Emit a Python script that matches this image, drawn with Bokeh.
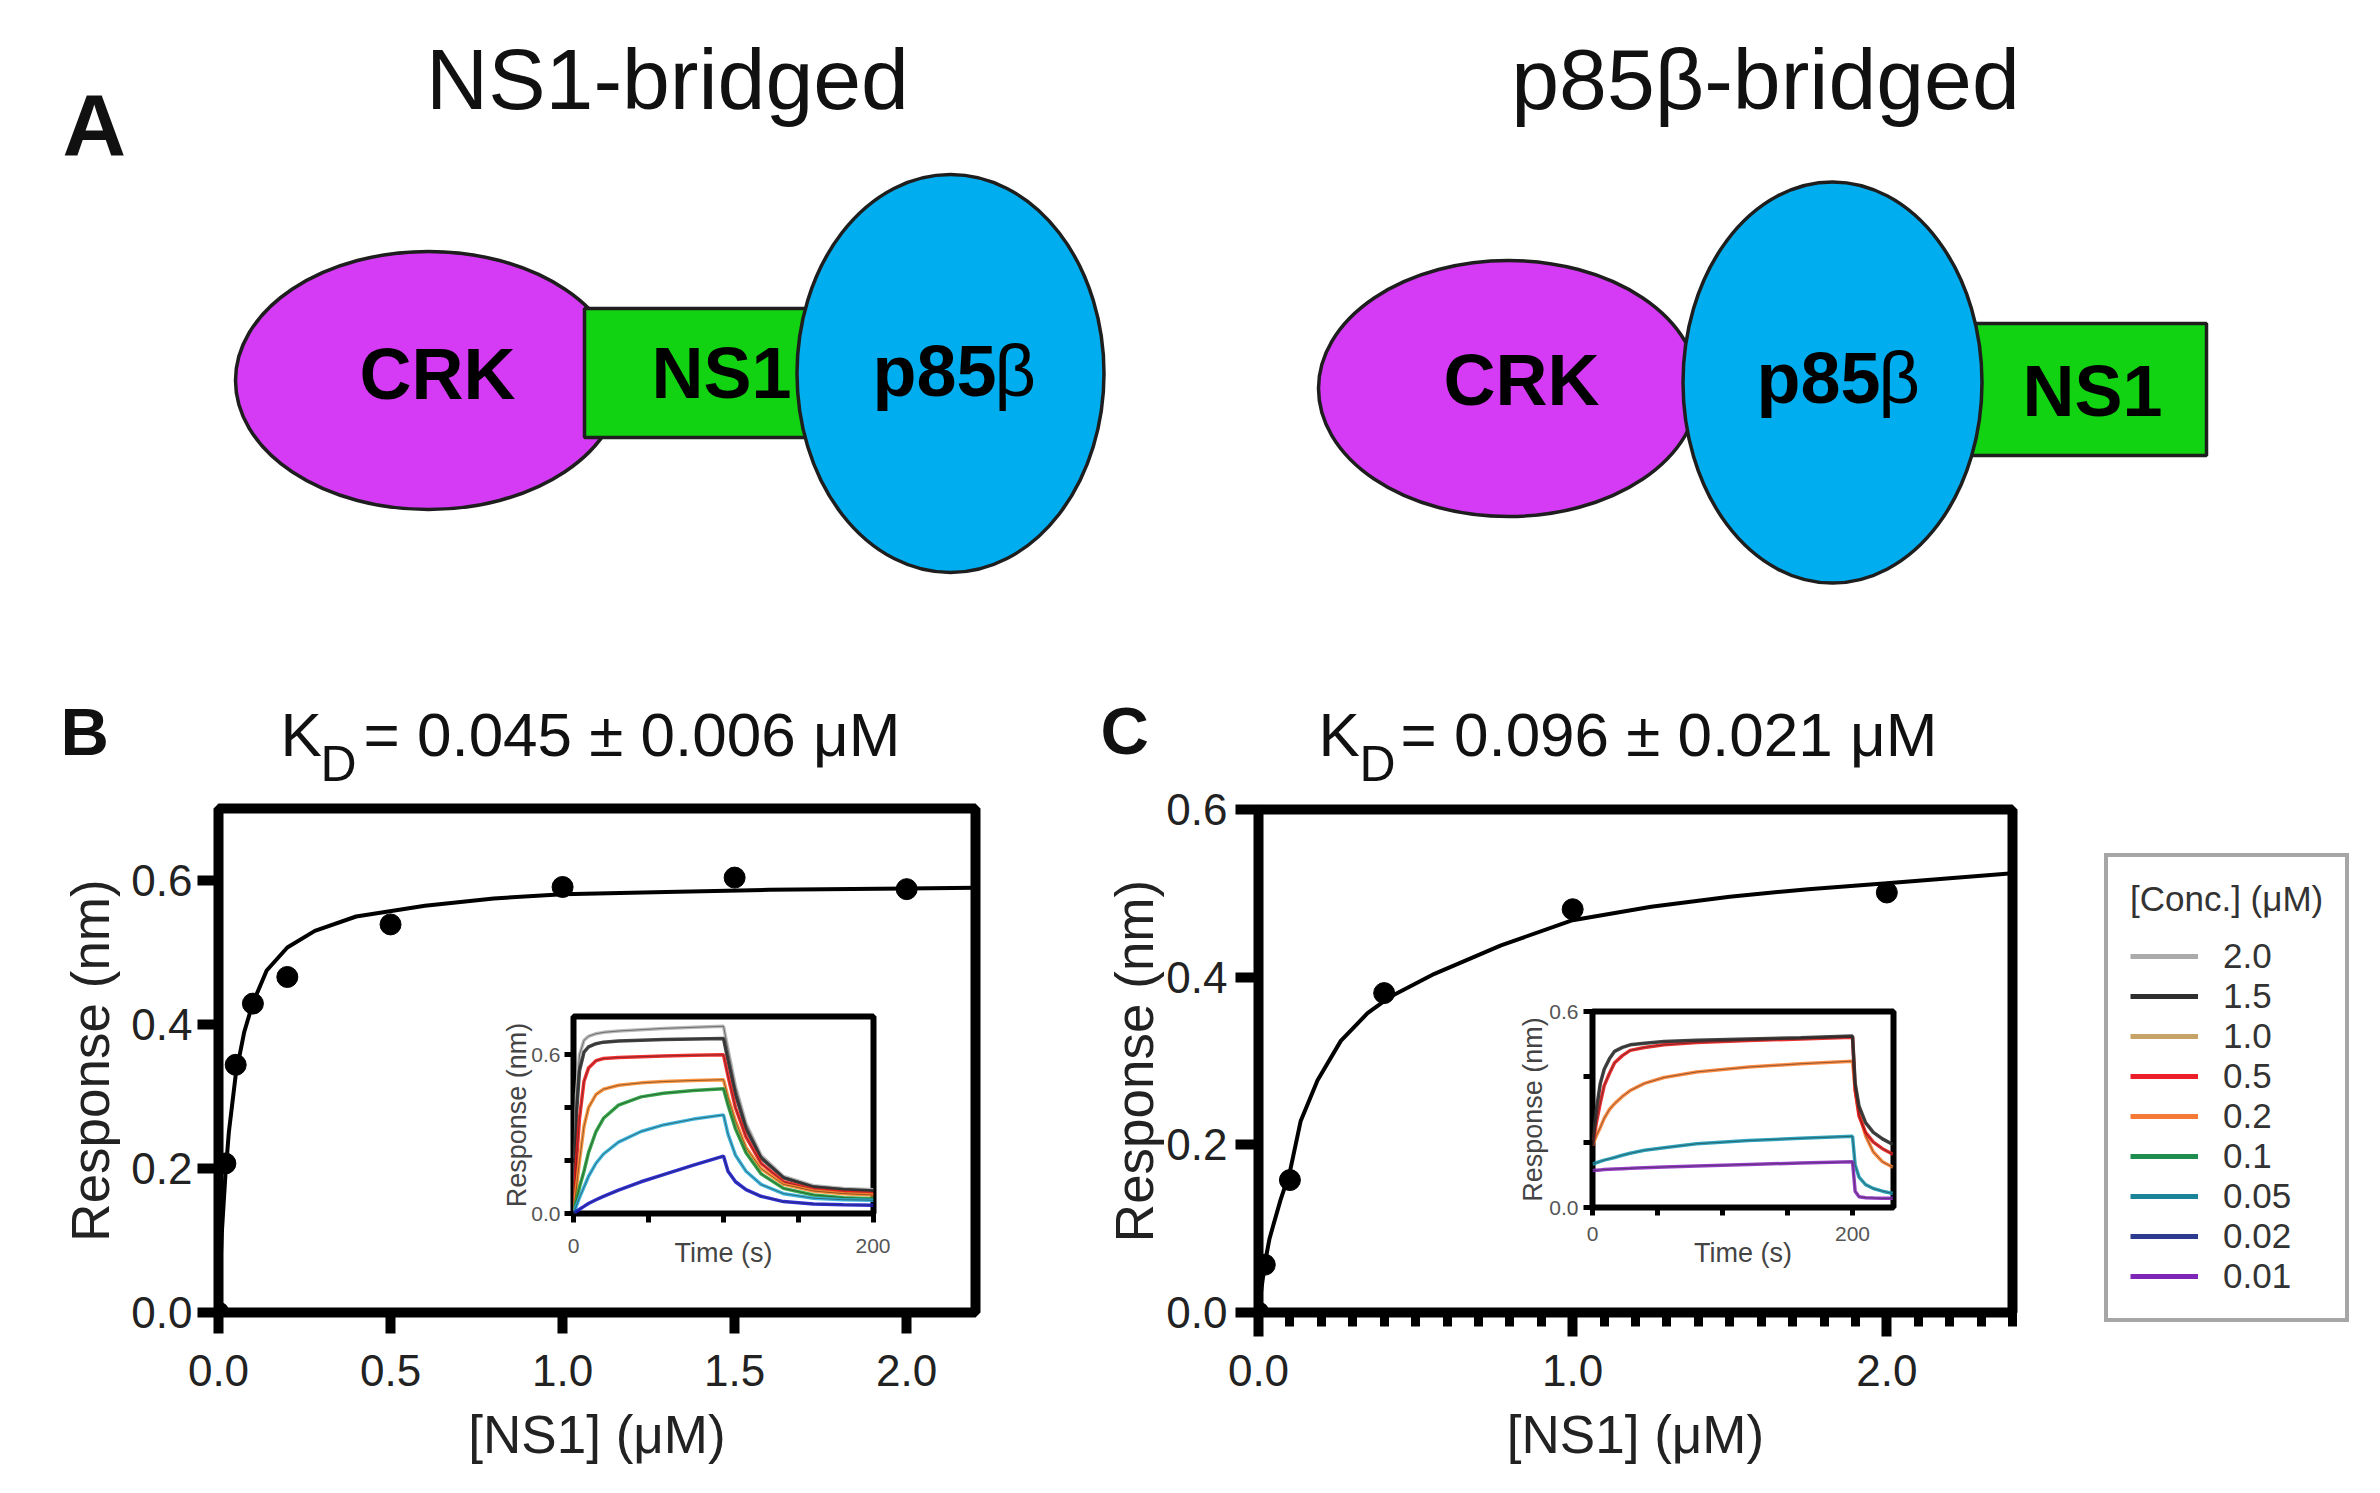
from bokeh.plotting import figure
from bokeh.models import Range1d, FixedTicker, PrintfTickFormatter, GridBox, Legend, LegendItem
from bokeh.core.properties import value
from bokeh.embed import file_html
from bokeh.resources import INLINE

FONT = "Liberation Sans"

# ---------------- data ----------------
conc_labels = ["2.0", "1.5", "1.0", "0.5", "0.2", "0.1", "0.05", "0.02", "0.01"]
conc_colors = ["#ABABAB", "#2E2E2E", "#C6A468", "#EC1E2A", "#F47A36",
               "#1E8E50", "#1A8598", "#2C3B90", "#7E27B6"]

# Panel B: steady-state binding (NS1-bridged)
b_conc = [0, 0.02, 0.05, 0.1, 0.2, 0.5, 1.0, 1.5, 2.0]
b_resp = [0, 0.207, 0.344, 0.429, 0.466, 0.539, 0.591, 0.604, 0.588]
b_fit_x = [0, 0.005, 0.01, 0.02, 0.03, 0.05, 0.075, 0.1, 0.14, 0.2, 0.28, 0.4,
           0.6, 0.8, 1.0, 1.3, 1.6, 2.0, 2.2]
b_fit_y = [0, 0.056, 0.113, 0.19, 0.25, 0.33, 0.39, 0.43, 0.475, 0.507, 0.53, 0.55,
           0.565, 0.575, 0.581, 0.584, 0.587, 0.589, 0.59]

# Panel C: steady-state binding (p85beta-bridged)
c_conc = [0, 0.02, 0.1, 0.4, 1.0, 2.0]
c_resp = [0, 0.057, 0.158, 0.381, 0.481, 0.501]
c_fit_x = [0, 0.01, 0.02, 0.035, 0.05, 0.07, 0.1, 0.134, 0.188, 0.262, 0.347, 0.421,
           0.56, 0.772, 1.0, 1.25, 1.5, 1.75, 2.0, 2.2, 2.4]
c_fit_y = [0, 0.03, 0.058, 0.088, 0.108, 0.134, 0.168, 0.228, 0.277, 0.324, 0.357, 0.377,
           0.404, 0.438, 0.468, 0.484, 0.496, 0.505, 0.512, 0.518, 0.524]

# Inset B sensorgrams
ib_time = [0, 2, 4, 7, 10, 15, 20, 30, 45, 60, 80, 100, 103, 108, 115, 125, 140, 160, 180, 200]
ib_gray = [0, 0.45, 0.60, 0.655, 0.67, 0.68, 0.685, 0.69, 0.695, 0.70, 0.704, 0.708,
           0.62, 0.48, 0.34, 0.22, 0.14, 0.105, 0.095, 0.09]
ib_black = [0, 0.38, 0.54, 0.61, 0.63, 0.642, 0.648, 0.652, 0.655, 0.658, 0.66, 0.662,
            0.58, 0.45, 0.32, 0.21, 0.135, 0.10, 0.09, 0.085]
ib_red = [0, 0.20, 0.36, 0.50, 0.55, 0.578, 0.586, 0.59, 0.593, 0.596, 0.598, 0.60,
          0.52, 0.40, 0.29, 0.19, 0.12, 0.09, 0.08, 0.075]
ib_orange = [0, 0.10, 0.20, 0.33, 0.40, 0.45, 0.47, 0.485, 0.494, 0.499, 0.503, 0.506,
             0.44, 0.35, 0.25, 0.17, 0.11, 0.085, 0.075, 0.07]
ib_green = [0, 0.05, 0.10, 0.16, 0.23, 0.31, 0.36, 0.41, 0.441, 0.455, 0.465, 0.472,
            0.41, 0.32, 0.23, 0.15, 0.095, 0.07, 0.06, 0.056]
ib_cyan = [0, 0.03, 0.06, 0.10, 0.14, 0.19, 0.225, 0.27, 0.31, 0.335, 0.357, 0.373,
           0.30, 0.22, 0.16, 0.11, 0.075, 0.058, 0.052, 0.05]
ib_blue = [0, 0.008, 0.016, 0.027, 0.038, 0.052, 0.065, 0.088, 0.12, 0.147, 0.183, 0.217,
           0.16, 0.12, 0.09, 0.065, 0.045, 0.036, 0.033, 0.031]
ib_series = [ib_gray, ib_black, ib_red, ib_orange, ib_green, ib_cyan, ib_blue]
ib_colors = ["#B3B3B3", "#303030", "#F01818", "#FF8A2A", "#22A03A", "#2AAED8", "#1A1AD0"]

# Inset C sensorgrams
ic_time = [0, 3, 6, 9, 13, 17, 23, 29, 40, 55, 80, 120, 160, 200, 202, 205, 210, 216, 223, 231]
ic_black = [0.19, 0.30, 0.38, 0.423, 0.455, 0.478, 0.49, 0.498, 0.503, 0.508, 0.512, 0.516,
            0.52, 0.525, 0.38, 0.31, 0.26, 0.23, 0.21, 0.193]
ic_red = [0.19, 0.26, 0.32, 0.373, 0.41, 0.443, 0.465, 0.481, 0.49, 0.498, 0.505, 0.511,
          0.516, 0.521, 0.36, 0.28, 0.23, 0.20, 0.18, 0.163]
ic_orange = [0.19, 0.22, 0.245, 0.273, 0.30, 0.318, 0.34, 0.358, 0.38, 0.398, 0.415, 0.43,
             0.44, 0.448, 0.36, 0.29, 0.22, 0.17, 0.14, 0.123]
ic_teal = [0.133, 0.137, 0.141, 0.145, 0.149, 0.153, 0.16, 0.166, 0.175, 0.183, 0.195, 0.205,
           0.212, 0.218, 0.13, 0.093, 0.07, 0.058, 0.05, 0.043]
ic_purple = [0.113, 0.114, 0.115, 0.116, 0.117, 0.118, 0.119, 0.12, 0.122, 0.124, 0.127, 0.132,
             0.136, 0.14, 0.05, 0.033, 0.03, 0.029, 0.028, 0.028]
ic_series = [ic_orange, ic_red, ic_black, ic_teal, ic_purple]
ic_colors = ["#FF8030", "#E81818", "#303030", "#1A9AB5", "#8A2BC0"]

# Panel A diagram (page pixel space)
crk_x = [428, 1508]
crk_y = [380, 388]
crk_w = [386, 380]
crk_h = [258, 256]
ns1_left = [584, 1958]
ns1_right = [850, 2206]
ns1_top = [308, 323]
ns1_bottom = [437, 455]
p85_x = [950, 1832]
p85_y = [373, 382]
p85_w = [307, 299]
p85_h = [398, 401]

# ---------------- helpers ----------------
def new_fig(fw, fh, xr, yr, left, right, top, bottom, **kw):
    p = figure(frame_width=fw, frame_height=fh, x_range=xr, y_range=yr,
               min_border_left=left, min_border_right=right,
               min_border_top=top, min_border_bottom=bottom,
               toolbar_location=None, output_backend="svg", title=None, **kw)
    p.frame_align = False
    p.border_fill_color = None
    p.xgrid.visible = False
    p.ygrid.visible = False
    return p


def plain_fig(w, h, xr, yr):
    p = figure(width=w, height=h, x_range=xr, y_range=yr, min_border=0,
               x_axis_location=None, y_axis_location=None,
               toolbar_location=None, output_backend="svg", title=None)
    p.frame_align = False
    p.border_fill_color = None
    p.outline_line_color = None
    p.xgrid.visible = False
    p.ygrid.visible = False
    return p


def style_axis(ax, major, minor, tick_out, tick_w, fmt, lab_px, lab_color, lab_standoff,
               title, title_px, title_color, title_standoff, minor_out=None):
    ax.ticker = FixedTicker(ticks=major, minor_ticks=minor)
    ax.formatter = PrintfTickFormatter(format=fmt)
    ax.axis_line_color = None
    ax.major_tick_in = 0
    ax.major_tick_out = tick_out
    ax.major_tick_line_width = tick_w
    ax.major_tick_line_color = "black"
    ax.minor_tick_in = 0
    ax.minor_tick_out = tick_out if minor_out is None else minor_out
    ax.minor_tick_line_width = tick_w if minor_out is None else tick_w - 1
    ax.minor_tick_line_color = "black"
    ax.major_label_text_font = FONT
    ax.major_label_text_font_size = f"{lab_px}px"
    ax.major_label_text_color = lab_color
    ax.major_label_standoff = lab_standoff
    ax.axis_label = title
    ax.axis_label_text_font = FONT
    ax.axis_label_text_font_size = f"{title_px}px"
    ax.axis_label_text_font_style = "normal"
    ax.axis_label_text_color = title_color
    ax.axis_label_standoff = title_standoff


# ---------------- background canvas: panel A + free texts ----------------
bg = plain_fig(2372, 1485, Range1d(0, 2372), Range1d(1485, 0))
bg.background_fill_color = "white"

OUT = "#1E1E1E"
bg.ellipse(x=crk_x, y=crk_y, width=crk_w, height=crk_h, fill_color="#D53BF5",
           line_color=OUT, line_width=3.5)
bg.quad(left=ns1_left, right=ns1_right, top=ns1_top, bottom=ns1_bottom,
        fill_color="#12D312", line_color=OUT, line_width=3.5)
bg.ellipse(x=p85_x, y=p85_y, width=p85_w, height=p85_h, fill_color="#00AEEF",
           line_color=OUT, line_width=3.5)


def put_text(xs, ys, texts, size, style="normal", align="left", color="#111111"):
    # the renderer draws the alphabetic baseline slightly low; compensate
    yy = [v - 0.27 * size - 9 for v in ys]
    bg.text(x=xs, y=yy, text=texts, text_font=value(FONT), text_font_size=value(f"{size}px"),
            text_font_style=style, text_align=align, text_baseline="alphabetic",
            text_color=color)


put_text([62], [157], ["A"], 88, "bold")
put_text([60, 1100], [758, 757], ["B", "C"], 67, "bold")
put_text([667, 1765], [111, 111], ["NS1-bridged", "p85β-bridged"], 86, align="center")
put_text([437, 721, 1521, 2092], [402, 401, 408, 419], ["CRK", "NS1", "CRK", "NS1"], 72,
         "bold", align="center", color="#000000")
put_text([872, 1756], [399, 406], ["p85", "p85"], 72, "bold", color="#000000")
put_text([994, 1878], [399, 406], ["β", "β"], 72, color="#000000")
put_text([280, 1318], [760, 760], ["K", "K"], 62)
put_text([320, 1359], [786, 786], ["D", "D"], 50)
put_text([363, 1400], [760, 760], ["= 0.045 ± 0.006 μM", "= 0.096 ± 0.021 μM"], 62)

# ---------------- panel B ----------------
pB = new_fig(757, 504, Range1d(0, 2.2), Range1d(0, 0.7), 218, 65, 168, 173)
pB.background_fill_color = "white"
pB.outline_line_color = "black"
pB.outline_line_width = 10
style_axis(pB.xaxis[0], [0, 0.5, 1.0, 1.5, 2.0], [], 21, 10, "%.1f", 44, "#222222", 21,
           "[NS1] (μM)", 53, "#222222", 16)
style_axis(pB.yaxis[0], [0, 0.2, 0.4, 0.6], [], 21, 10, "%.1f", 44, "#222222", 5,
           "Response (nm)", 53, "#222222", 8)
pB.line(b_fit_x, b_fit_y, line_color="black", line_width=4)
pB.scatter(b_conc, b_resp, size=21, fill_color="black", line_color="black")

# inset B
iB = new_fig(300, 200, Range1d(0, 200), Range1d(0, 0.745), 85, 17, 16, 54)
iB.background_fill_color = "white"
iB.outline_line_color = "black"
iB.outline_line_width = 6
style_axis(iB.xaxis[0], [0, 200], [50, 100, 150], 9, 5, "%d", 21, "#555555", 16,
           "Time (s)", 27, "#444444", -18)
style_axis(iB.yaxis[0], [0, 0.6], [0.2, 0.4], 9, 5, "%.1f", 21, "#555555", 4,
           "Response (nm)", 27, "#444444", -4)
for ys, col in zip(ib_series, ib_colors):
    iB.line(ib_time, ys, line_color=col, line_width=3.5, line_alpha=0.9)
    iB.line(ib_time, ys, line_color="#222222", line_width=1, line_alpha=0.5)

# ---------------- panel C ----------------
pC = new_fig(754, 503, Range1d(0, 2.4), Range1d(0, 0.6), 218, 68, 169, 173)
pC.background_fill_color = "white"
pC.outline_line_color = "black"
pC.outline_line_width = 10
c_minor = [round(0.1 * i, 1) for i in range(1, 25) if i % 10 != 0]
style_axis(pC.xaxis[0], [0, 1.0, 2.0], c_minor, 24, 10, "%.1f", 44, "#222222", 18,
           "[NS1] (μM)", 53, "#222222", 16, minor_out=14)
style_axis(pC.yaxis[0], [0, 0.2, 0.4, 0.6], [], 23, 10, "%.1f", 44, "#222222", 8,
           "Response (nm)", 53, "#222222", -1)
pC.line(c_fit_x, c_fit_y, line_color="black", line_width=4)
pC.scatter(c_conc, c_resp, size=21, fill_color="black", line_color="black")

# inset C
iC = new_fig(301, 200, Range1d(0, 231.5), Range1d(0, 0.6), 92, 17, 21, 59)
iC.background_fill_color = "white"
iC.outline_line_color = "black"
iC.outline_line_width = 6
style_axis(iC.xaxis[0], [0, 200], [50, 100, 150], 8, 5, "%d", 21, "#555555", 11,
           "Time (s)", 27, "#444444", -6)
style_axis(iC.yaxis[0], [0, 0.6], [0.2, 0.4], 9, 5, "%.1f", 21, "#555555", 5,
           "Response (nm)", 27, "#444444", -2)
for ys, col in zip(ic_series, ic_colors):
    iC.line(ic_time, ys, line_color=col, line_width=3.5, line_alpha=0.9)
    iC.line(ic_time, ys, line_color="#222222", line_width=1, line_alpha=0.5)

# ---------------- legend ----------------
pL = plain_fig(282, 845, Range1d(0, 1), Range1d(0, 1))
pL.background_fill_color = None
items = []
for lab, col in zip(conc_labels, conc_colors):
    # off-range stub so only the legend swatch is visible
    r = pL.line(x=[-5, -4], y=[-5, -5], line_color=col, line_width=5)
    items.append(LegendItem(label=lab, renderers=[r]))
leg = Legend(items=items, location=(14, 163), title="[Conc.] (μM)",
             title_text_font=FONT, title_text_font_size="35px", title_text_font_style="normal",
             title_text_color="#333333", title_standoff=17,
             label_text_font=FONT, label_text_font_size="35px", label_text_color="#333333",
             glyph_width=68, glyph_height=30, label_height=30, label_standoff=25,
             spacing=0, padding=22, margin=0,
             border_line_color="#4D4D4D", border_line_width=4,
             background_fill_color="white", background_fill_alpha=1.0)
pL.add_layout(leg)

# ---------------- page layout (page pixel rectangles) ----------------
rects = [
    (bg, (0, 0, 2372, 1485)),
    (pB, (0, 640, 1040, 1485)),
    (pC, (1040, 640, 2080, 1485)),
    (pL, (2090, 640, 2372, 1485)),
    (iB, (488, 1000, 890, 1270)),
    (iC, (1500, 990, 1910, 1270)),
]
xs = sorted({r[0] for _, r in rects} | {r[2] for _, r in rects})
ys = sorted({r[1] for _, r in rects} | {r[3] for _, r in rects})
cols = [f"{xs[i + 1] - xs[i]}px" for i in range(len(xs) - 1)]
rows = [f"{ys[i + 1] - ys[i]}px" for i in range(len(ys) - 1)]
children = []
for fig, (x0, y0, x1, y1) in rects:
    c0, c1 = xs.index(x0), xs.index(x1)
    r0, r1 = ys.index(y0), ys.index(y1)
    children.append((fig, r0, c0, r1 - r0, c1 - c0))

page = GridBox(children=children, rows=rows, cols=cols, spacing=0)

open("out.html", "w").write(file_html(page, INLINE))
